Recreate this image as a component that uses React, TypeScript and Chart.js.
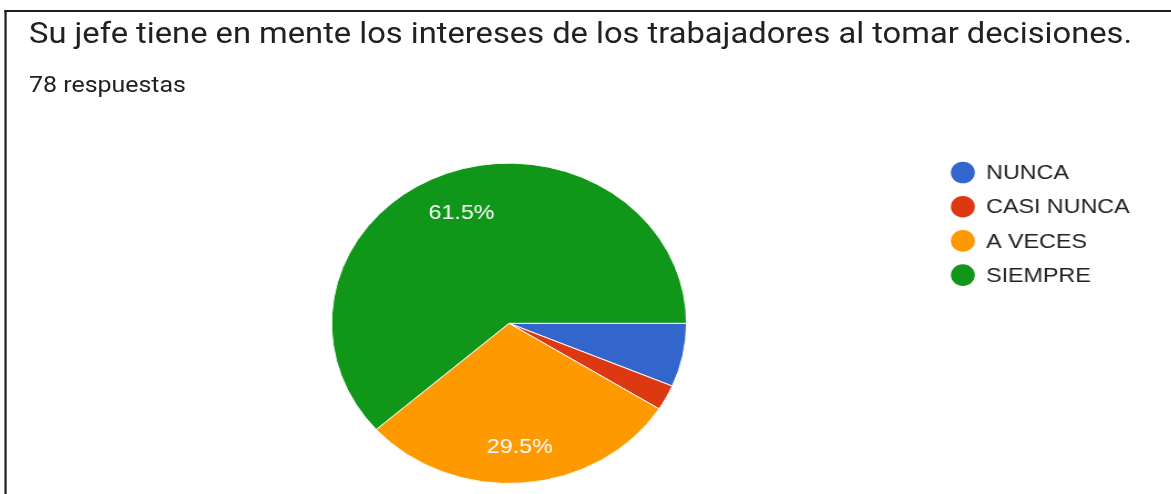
import React, { useEffect, useRef } from "react";
import { Chart, registerables } from "chart.js";

Chart.register(...registerables);

const TITLE = "Su jefe tiene en mente los intereses de los trabajadores al tomar decisiones.";
const SUBTITLE = "78 respuestas";
const categories = ["NUNCA", "CASI NUNCA", "A VECES", "SIEMPRE"];
const counts = [5, 2, 23, 48];
const colors = ["#3366CC", "#DC3912", "#FF9900", "#109618"];

const STRETCH = 1.108;
const INNER_W = 1057;
const H = 494;

const sliceLabels = {
  id: "sliceLabels",
  afterDatasetsDraw(chart: any) {
    const ctx = chart.ctx;
    const meta = chart.getDatasetMeta(0);
    const data = chart.data.datasets[0].data as number[];
    const total = data.reduce((a, b) => a + b, 0);
    ctx.save();
    ctx.fillStyle = "#ffffff";
    ctx.font = "21px 'Liberation Sans', Arial, sans-serif";
    ctx.textAlign = "center";
    ctx.textBaseline = "middle";
    meta.data.forEach((arc: any, i: number) => {
      const pct = (data[i] / total) * 100;
      if (pct < 10) return;
      const p = arc.getProps(["x", "y", "startAngle", "endAngle", "outerRadius"], true);
      const mid = (p.startAngle + p.endAngle) / 2;
      const r = p.outerRadius * 0.755;
      ctx.fillText(pct.toFixed(1) + "%", p.x + Math.cos(mid) * r, p.y + Math.sin(mid) * r + 3);
    });
    ctx.restore();
  },
};

const sideLegend = {
  id: "sideLegend",
  afterDraw(chart: any) {
    const ctx = chart.ctx;
    const labels = chart.data.labels as string[];
    const bg = chart.data.datasets[0].backgroundColor as string[];
    ctx.save();
    ctx.font = "21px 'Liberation Sans', Arial, sans-serif";
    ctx.textBaseline = "middle";
    ctx.textAlign = "left";
    labels.forEach((lab, i) => {
      const cy = 172.5 + i * 34.2;
      ctx.fillStyle = bg[i];
      ctx.beginPath();
      ctx.arc(869, cy, 10.8, 0, Math.PI * 2);
      ctx.fill();
      ctx.fillStyle = "#222222";
      ctx.fillText(lab, 890, cy + 1);
    });
    ctx.restore();
  },
};

export default function App() {
  const ref = useRef<HTMLCanvasElement | null>(null);

  useEffect(() => {
    if (!ref.current) return;
    const chart = new Chart(ref.current, {
      type: "pie",
      data: {
        labels: categories,
        datasets: [
          {
            data: counts,
            backgroundColor: colors,
            borderColor: "#ffffff",
            borderWidth: 1,
          },
        ],
      },
      options: {
        animation: false,
        responsive: false,
        maintainAspectRatio: false,
        devicePixelRatio: 1,
        rotation: 90,
        layout: {
          padding: { left: 298.7, right: 436.9, top: 162.6, bottom: 10 },
        },
        plugins: {
          legend: { display: false },
          tooltip: { enabled: false },
          title: { display: false },
        },
      },
      plugins: [sliceLabels, sideLegend],
    });
    return () => chart.destroy();
  }, []);

  return (
    <div
      style={{
        position: "fixed",
        left: 0,
        top: 0,
        width: 1171,
        height: H,
        overflow: "hidden",
        background: "#ffffff",
      }}
    >
      <div
        style={{
          position: "absolute",
          left: 0,
          top: 0,
          width: INNER_W,
          height: H,
          transform: `scaleX(${STRETCH})`,
          transformOrigin: "0 0",
        }}
      >
        <canvas ref={ref} width={INNER_W} height={H} style={{ position: "absolute", left: 0, top: 0 }} />
        <div style={{ position: "absolute", left: 4, top: 10, width: INNER_W, height: 2, background: "#1e1e1e" }} />
        <div style={{ position: "absolute", left: 4, top: 10, width: 2, height: H, background: "#1e1e1e" }} />
        <div
          style={{
            position: "absolute",
            left: 26.2,
            top: 18.5,
            fontFamily: "Roboto, sans-serif",
            fontSize: 29.5,
            lineHeight: "29.5px",
            color: "#202124",
            whiteSpace: "nowrap",
          }}
        >
          {TITLE}
        </div>
        <div
          style={{
            position: "absolute",
            left: 26.2,
            top: 73,
            fontFamily: "Roboto, sans-serif",
            fontSize: 22.5,
            lineHeight: "22.5px",
            color: "#202124",
            whiteSpace: "nowrap",
          }}
        >
          {SUBTITLE}
        </div>
      </div>
    </div>
  );
}
